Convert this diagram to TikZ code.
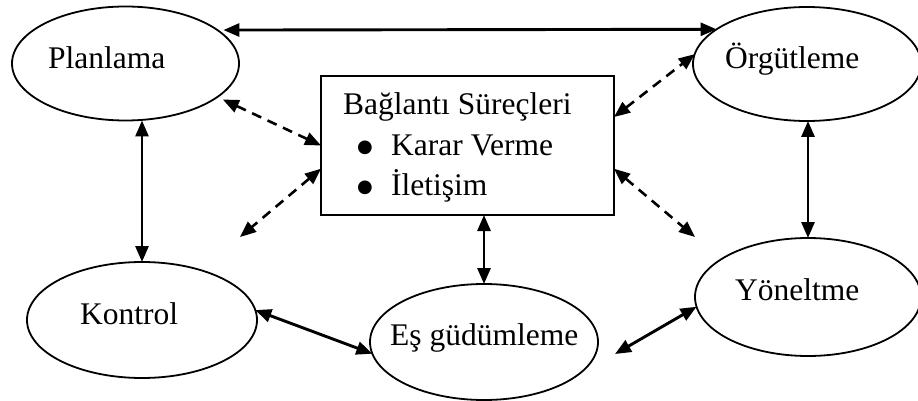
\documentclass[tikz,border=0pt]{standalone}
\usepackage{fontspec}
\setmainfont{Liberation Serif}
\newfontfamily\dotfont{DejaVu Sans}
\usetikzlibrary{arrows.meta,shapes.geometric}

\begin{document}
\begin{tikzpicture}[x=1pt,y=-1pt,
  bubble/.style={draw,ellipse,line width=1.8pt,inner sep=0pt,outer sep=0pt},
  panel/.style={draw,rectangle,line width=1.9pt,inner sep=0pt,outer sep=0pt},
  txt/.style={inner sep=0pt,anchor=base west,font=\fontsize{31.5}{36}\selectfont},
  dot/.style={inner sep=0pt,font=\dotfont\fontsize{18}{20}\selectfont},
  link/.style={line width=2.9pt,{Triangle[length=16pt,width=13pt]}-{Triangle[length=16pt,width=13pt]}},
  dlink/.style={line width=2.6pt,dash pattern=on 10pt off 7pt,{Triangle[length=16pt,width=13pt]}-{Triangle[length=16pt,width=13pt]}},
]
\useasboundingbox (0,0) rectangle (918,401);

% management functions
\node[bubble,minimum width=227pt,minimum height=114pt] (pl) at (125.5,63.5) {};
\node[bubble,minimum width=228pt,minimum height=114pt] (og) at (807,64) {};
\node[bubble,minimum width=230pt,minimum height=116pt] (ko) at (142,320) {};
\node[bubble,minimum width=228pt,minimum height=116pt] (eg) at (484,342) {};
\node[bubble,minimum width=226pt,minimum height=118pt] (yo) at (808,297) {};

% central box
\node[panel,minimum width=293pt,minimum height=139pt] (bx) at (467.5,145.5) {};

% labels
\node[txt] (tpl) at (48,69) {Planlama};
\node[txt] (tog) at (725,69) {Örgütleme};
\node[txt] (tko) at (80,324.5) {Kontrol};
\node[txt] (teg) at (390,345.5) {Eş güdümleme};
\node[txt] (tyo) at (735,300.5) {Yöneltme};
\node[txt] (tb0) at (343,115) {Bağlantı Süreçleri};
\node[dot] (b1) at (365,147.5) {●};
\node[txt] (tb1) at (391,155) {Karar Verme};
\node[dot] (b2) at (365,187.5) {●};
\node[txt] (tb2) at (391,195) {İletişim};

% free ends
\coordinate (ll) at (240,237);
\coordinate (lr) at (695,237);
\coordinate (egr) at (615,354);

% solid links
\draw[link,shorten <=6pt] (pl.20) -- (og.159.3);
\draw[link] (pl.south -| ko.north) -- (ko.north);
\draw[link] (og.south -| yo.north) -- (yo.north);
\draw[link] (bx.south -| eg.north) -- (eg.north);
\draw[link] (ko.5.9) -- (eg.186.4);
\draw[link] (egr) -- (yo.185.7);

% dashed links
\draw[dlink,shorten <=6pt] (pl.-20) -- (bx.west);
\draw[dlink] (bx.189.5) -- (ll);
\draw[dlink] (bx.11.7) -- (og.175.5);
\draw[dlink] (bx.-9.5) -- (lr);
\end{tikzpicture}
\end{document}
